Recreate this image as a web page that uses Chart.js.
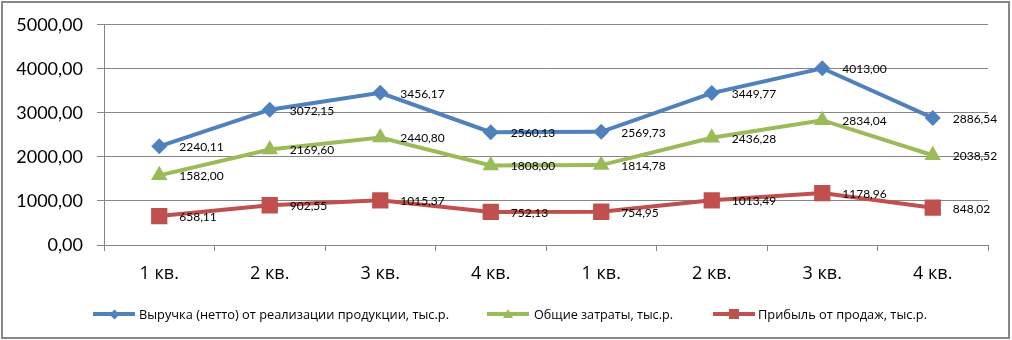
<!DOCTYPE html>
<html>
<head>
<meta charset="utf-8">
<script src="https://cdn.jsdelivr.net/npm/chart.js@4"></script>
<style>
  html, body { margin: 0; padding: 0; background: #fff; }
  #wrap { position: relative; width: 1012px; height: 340px; }
  #frame {
    position: absolute; left: 1px; top: 1px; right: 2px; bottom: 1px;
    border: 2px solid #878787; pointer-events: none;
  }
  #legend {
    position: absolute; top: 306px; left: 0; width: 1012px; height: 16px;
    font-family: "Open Sans", "Noto Sans", sans-serif; font-size: 13px; color: #000;
  }
  .item { position: absolute; top: 0; height: 16px; line-height: 16px; white-space: nowrap; }
  .swatch { position: absolute; top: 6px; height: 4px; }
  .mk { position: absolute; }
  .lbl { position: absolute; top: 0; transform-origin: 0 50%; }
</style>
</head>
<body>
<div id="wrap">
  <canvas id="chart" width="1012" height="340"></canvas>
  <div id="legend"></div>
  <div id="frame"></div>
</div>
<script>
  const quarters = ['1 кв.', '2 кв.', '3 кв.', '4 кв.', '1 кв.', '2 кв.', '3 кв.', '4 кв.'];
  const revenue = [2240.11, 3072.15, 3456.17, 2560.13, 2569.73, 3449.77, 4013.00, 2886.54];
  const costs = [1582.00, 2169.60, 2440.80, 1808.00, 1814.78, 2436.28, 2834.04, 2038.52];
  const profit = [658.11, 902.55, 1015.37, 752.13, 754.95, 1013.49, 1178.96, 848.02];
  const yTicks = [0, 1000, 2000, 3000, 4000, 5000];

  const seriesNames = [
    'Выручка (нетто) от реализации продукции, тыс.р.',
    'Общие затраты, тыс.р.',
    'Прибыль от продаж, тыс.р.'
  ];
  const BLUE = '#4f81bd', GREEN = '#9bbb59', RED = '#c0504d';
  const GRID = '#868686';

  function fmt(v) { return v.toFixed(2).replace('.', ','); }

  // value labels to the right of each point
  const pointLabels = {
    id: 'pointLabels',
    afterDatasetsDraw(chart) {
      const ctx = chart.ctx;
      ctx.save();
      ctx.font = '12px Lato, "DejaVu Sans", sans-serif';
      ctx.fillStyle = '#000';
      ctx.textAlign = 'left';
      ctx.textBaseline = 'middle';
      chart.data.datasets.forEach(function (ds, i) {
        chart.getDatasetMeta(i).data.forEach(function (pt, j) {
          ctx.fillText(fmt(ds.data[j]), pt.x + 20, pt.y + 1);
        });
      });
      ctx.restore();
    }
  };

  function series(label, data, color, style, radius) {
    return {
      label: label,
      data: data,
      borderColor: color,
      backgroundColor: color,
      borderWidth: 4,
      pointStyle: style,
      pointRadius: radius,
      pointHoverRadius: radius,
      pointBorderWidth: 0,
      tension: 0
    };
  }

  new Chart(document.getElementById('chart'), {
    type: 'line',
    data: {
      labels: quarters,
      datasets: [
        series(seriesNames[0], revenue, BLUE, 'rectRot', 8),
        series(seriesNames[1], costs, GREEN, 'triangle', 9.5),
        series(seriesNames[2], profit, RED, 'rect', 11.5)
      ]
    },
    options: {
      responsive: false,
      animation: false,
      layout: { padding: { left: 0, right: 24, top: 24, bottom: 55 } },
      plugins: { legend: { display: false }, tooltip: { enabled: false } },
      scales: {
        x: {
          offset: true,
          grid: { offset: true, drawOnChartArea: false, drawTicks: true, tickLength: 6, color: GRID },
          border: { display: true, color: GRID, width: 1 },
          ticks: {
            color: '#000', padding: 12,
            font: { family: '"Open Sans", "Noto Sans", sans-serif', size: 18 }
          },
          afterFit: function (s) { s.height = 40; }
        },
        y: {
          min: 0, max: 5000,
          afterBuildTicks: function (s) { s.ticks = yTicks.map(function (v) { return { value: v }; }); },
          grid: { color: GRID, tickLength: 7, lineWidth: 1 },
          border: { display: true, color: GRID, width: 1 },
          ticks: {
            color: '#000', padding: 14,
            font: { family: 'Lato, "Open Sans", sans-serif', size: 18 },
            callback: function (v) { return fmt(v); }
          },
          afterFit: function (s) { s.width = 104; }
        }
      }
    },
    plugins: [pointLabels]
  });

  // legend: line + marker swatch, label squeezed into its slot
  const legendItems = [
    { x: 93, w: 42, tx: 139, tw: 310, color: BLUE, mk: 'diamond' },
    { x: 487, w: 42, tx: 534, tw: 139, color: GREEN, mk: 'triangle' },
    { x: 713, w: 42, tx: 758, tw: 169, color: RED, mk: 'square' }
  ];
  const legend = document.getElementById('legend');
  legendItems.forEach(function (it, i) {
    const el = document.createElement('div');
    el.className = 'item';
    el.style.left = it.x + 'px';
    const sw = document.createElement('div');
    sw.className = 'swatch';
    sw.style.left = '0px';
    sw.style.width = it.w + 'px';
    sw.style.background = it.color;
    el.appendChild(sw);
    const mk = document.createElement('div');
    mk.className = 'mk';
    const cx = it.w / 2;
    if (it.mk === 'diamond') {
      mk.style.cssText = 'left:' + (cx - 3.5) + 'px;top:4.5px;width:7px;height:7px;transform:rotate(45deg);background:' + it.color;
    } else if (it.mk === 'triangle') {
      mk.style.cssText = 'left:' + (cx - 5) + 'px;top:3px;width:0;height:0;border-left:5px solid transparent;border-right:5px solid transparent;border-bottom:9px solid ' + it.color;
    } else {
      mk.style.cssText = 'left:' + (cx - 5) + 'px;top:3px;width:10px;height:10px;background:' + it.color;
    }
    el.appendChild(mk);
    const lbl = document.createElement('div');
    lbl.className = 'lbl';
    lbl.style.left = (it.tx - it.x) + 'px';
    lbl.textContent = seriesNames[i];
    el.appendChild(lbl);
    legend.appendChild(el);
    const w = lbl.getBoundingClientRect().width;
    if (w > 0) lbl.style.transform = 'scaleX(' + (it.tw / w) + ')';
  });
</script>
</body>
</html>
